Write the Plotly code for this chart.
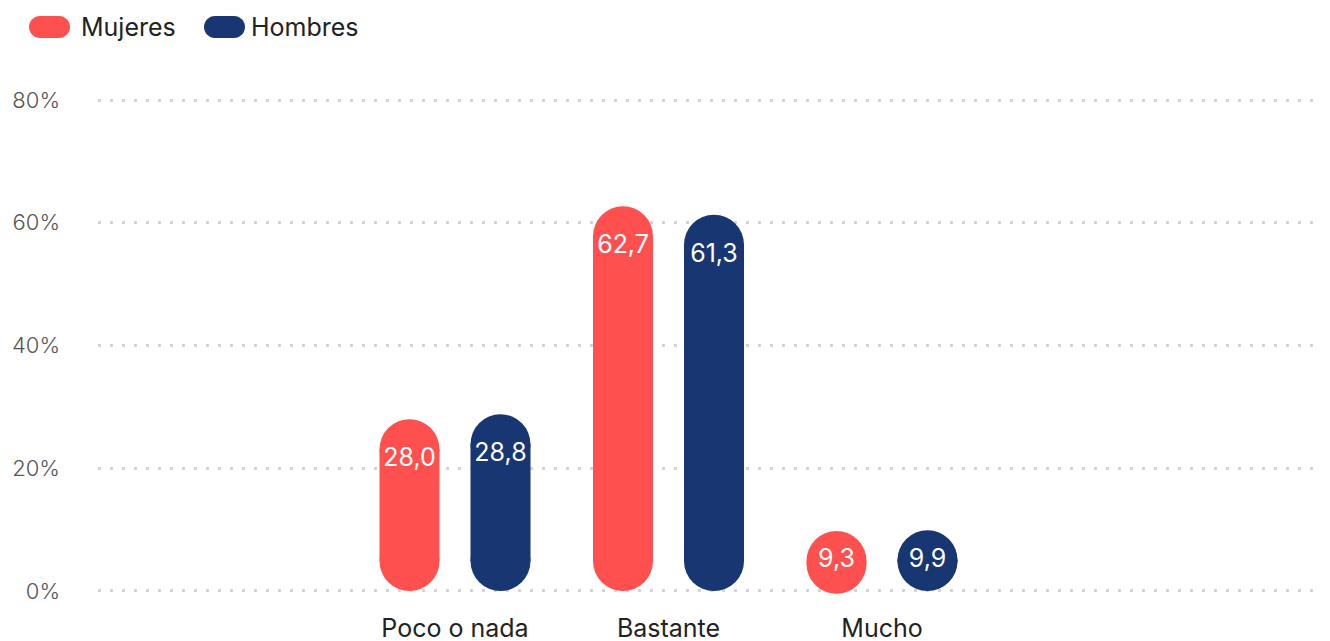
import plotly.graph_objects as go

# ---- data ----
categories = ["Poco o nada", "Bastante", "Mucho"]
mujeres = [28.0, 62.7, 9.3]
hombres = [28.8, 61.3, 9.9]
series_names = ["Mujeres", "Hombres"]
y_ticks = [0, 20, 40, 60, 80]
y_tick_labels = ["0%", "20%", "40%", "60%", "80%"]

# ---- styling / layout constants ----
RED = "#FF5050"
NAVY = "#173672"
FONT = "Inter"
W, H = 1322, 633
ML, MR, MT, MB = 90, 5, 89, 47
plot_w = W - ML - MR
plot_h = H - MT - MB
Y_LO, Y_HI = -0.5, 80.5
px_per_unit_y = plot_h / (Y_HI - Y_LO)
CAT_PX = 213.5                      # pixel distance between category centres
first_cat_px = 447 - ML             # pixel position of first category in plot
x_range = [-first_cat_px / CAT_PX, (plot_w - first_cat_px) / CAT_PX]
BAR_PX = 60
bar_w = BAR_PX / CAT_PX
offset = 45.5 / CAT_PX
r_y = (BAR_PX / 2) / px_per_unit_y  # radius of rounded end in data units
label_drop = 6.6                    # label sits this far below the bar top

idx = list(range(len(categories)))
fig = go.Figure()

for name, vals, col, sign in [(series_names[0], mujeres, RED, -1),
                              (series_names[1], hombres, NAVY, 1)]:
    xs = [i + sign * offset for i in idx]
    # straight body of the pill
    fig.add_trace(go.Bar(
        x=xs, y=[max(v - 2 * r_y, 0) for v in vals], base=r_y, width=bar_w,
        marker=dict(color=col, line=dict(width=0)),
        name=name, showlegend=False, hoverinfo="skip"))
    # rounded bottom and top ends
    fig.add_trace(go.Scatter(
        x=xs + xs, y=[r_y] * len(vals) + [v - r_y for v in vals],
        mode="markers",
        marker=dict(color=col, size=BAR_PX, line=dict(width=0)),
        showlegend=False, hoverinfo="skip"))
    # value labels
    fig.add_trace(go.Scatter(
        x=xs, y=[max(v - label_drop, r_y) for v in vals], mode="text",
        text=[f"{v:.1f}".replace(".", ",") for v in vals],
        textfont=dict(family=FONT, size=25, color="white"),
        textposition="middle center",
        showlegend=False, hoverinfo="skip"))


# ---- custom pill legend ----
def pill_path(x0, w, h):
    r = h / 2
    k = r * 0.5523
    return (f"M {x0 + r},{-r} L {x0 + w - r},{-r} "
            f"C {x0 + w - r + k},{-r} {x0 + w},{-k} {x0 + w},0 "
            f"C {x0 + w},{k} {x0 + w - r + k},{r} {x0 + w - r},{r} "
            f"L {x0 + r},{r} "
            f"C {x0 + r - k},{r} {x0},{k} {x0},0 "
            f"C {x0},{-k} {x0 + r - k},{-r} {x0 + r},{-r} Z")


legend_y_px = 19
legend_y_paper = (H - MB - legend_y_px) / plot_h
shapes = []
annotations = []
for name, col, icon_px, text_px in [(series_names[0], RED, 21, 71),
                                    (series_names[1], NAVY, 196, 241)]:
    shapes.append(dict(
        type="path", xref="paper", yref="paper",
        xsizemode="pixel", ysizemode="pixel",
        xanchor=0, yanchor=legend_y_paper,
        path=pill_path(icon_px - ML, 41, 22),
        fillcolor=col, line=dict(width=0), layer="above"))
    annotations.append(dict(
        text=name, xref="paper", yref="paper", x=0, y=legend_y_paper,
        xshift=text_px - ML, xanchor="left", yanchor="middle",
        showarrow=False, font=dict(family=FONT, size=25, color="#222222")))

fig.update_layout(
    width=W, height=H,
    margin=dict(l=ML, r=MR, t=MT, b=MB),
    plot_bgcolor="white", paper_bgcolor="white",
    barmode="overlay", showlegend=False,
    shapes=shapes, annotations=annotations,
    font=dict(family=FONT),
    xaxis=dict(
        range=x_range, tickmode="array", tickvals=idx, ticktext=categories,
        showgrid=False, zeroline=False, showline=False, ticks="",
        tickfont=dict(family=FONT, size=25, color="#222222"),
        ticklabelstandoff=17, automargin=False, fixedrange=True),
    yaxis=dict(
        range=[Y_LO, Y_HI], tickmode="array", tickvals=y_ticks,
        ticktext=y_tick_labels, showgrid=True, gridcolor="#d4d4d4",
        gridwidth=3, griddash="3px,9px", zeroline=False, showline=False,
        ticks="", tickfont=dict(family=FONT, size=22, color="#555555", weight=300),
        ticklabelstandoff=37, automargin=False, fixedrange=True),
)

fig.write_html("out.html")
